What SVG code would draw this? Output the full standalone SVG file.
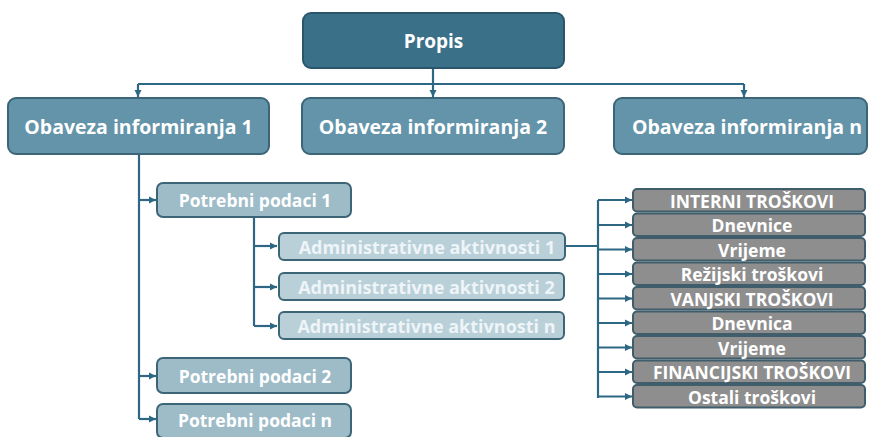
<svg xmlns="http://www.w3.org/2000/svg" width="869" height="437" viewBox="0 0 869 437">
<defs>
<marker id="ah" markerWidth="8" markerHeight="8" refX="7" refY="4" orient="auto" markerUnits="userSpaceOnUse">
<path d="M0,0.5 L7,4 L0,7.5 Z" fill="#2d6783"/>
</marker>
<style>
.ln{stroke:#2d6783;stroke-width:2.2;fill:none}
.top{fill:#3b7089;stroke:#2a566b;stroke-width:2}
.l1{fill:#6394a9;stroke:#3d6578;stroke-width:2}
.l2{fill:#9ebcc8;stroke:#3d6578;stroke-width:2}
.l3{fill:#b9d0d9;stroke:#3d6578;stroke-width:2}
.c{fill:#8e8e8e;stroke:#3f5d6b;stroke-width:2}
text{font-family:"Open Sans","Liberation Sans",sans-serif;font-weight:bold;fill:#fff;text-anchor:middle;dominant-baseline:central}
.t3{fill:#eef4f7}
.tk{font-size:17.5px}
</style>
</defs>
<rect width="869" height="437" fill="#fff"/>
<g id="connectors">
<path class="ln" d="M433,68 V84"/>
<path class="ln" d="M138,84 H744"/>
<path class="ln" d="M138,84 V97" marker-end="url(#ah)"/>
<path class="ln" d="M433,84 V97" marker-end="url(#ah)"/>
<path class="ln" d="M744,84 V97" marker-end="url(#ah)"/>
<path class="ln" d="M139,154 V419"/>
<path class="ln" d="M139,200 H156" marker-end="url(#ah)"/>
<path class="ln" d="M139,376 H156" marker-end="url(#ah)"/>
<path class="ln" d="M139,419 H156" marker-end="url(#ah)"/>
<path class="ln" d="M254,217 V326"/>
<path class="ln" d="M254,246 H277" marker-end="url(#ah)"/>
<path class="ln" d="M254,287 H277" marker-end="url(#ah)"/>
<path class="ln" d="M254,326 H277" marker-end="url(#ah)"/>
<path class="ln" d="M565,246 H598"/>
<path class="ln" d="M598,200 V398"/>
<path class="ln" d="M598,200 H632" marker-end="url(#ah)"/>
<path class="ln" d="M598,225 H632" marker-end="url(#ah)"/>
<path class="ln" d="M598,249.5 H632" marker-end="url(#ah)"/>
<path class="ln" d="M598,274 H632" marker-end="url(#ah)"/>
<path class="ln" d="M598,298.5 H632" marker-end="url(#ah)"/>
<path class="ln" d="M598,323 H632" marker-end="url(#ah)"/>
<path class="ln" d="M598,347.5 H632" marker-end="url(#ah)"/>
<path class="ln" d="M598,372 H632" marker-end="url(#ah)"/>
<path class="ln" d="M598,396.5 H632" marker-end="url(#ah)"/>
</g>
<g id="propis"><rect class="top" x="303" y="13" width="261" height="55" rx="8"/><text x="433.5" y="40.5" font-size="19">Propis</text></g>
<g id="ob1"><rect class="l1" x="8" y="98" width="261" height="56" rx="8"/><text x="138.5" y="126" font-size="19.5">Obaveza informiranja 1</text></g>
<g id="ob2"><rect class="l1" x="302" y="98" width="262" height="56" rx="8"/><text x="433" y="126" font-size="19.5">Obaveza informiranja 2</text></g>
<g id="obn"><rect class="l1" x="614" y="98" width="253" height="56" rx="8"/><text x="747" y="126" font-size="19.5">Obaveza informiranja n</text></g>
<g id="pp1"><rect class="l2" x="157" y="183" width="194" height="34" rx="6"/><text x="255" y="200" font-size="17.5">Potrebni podaci 1</text></g>
<g id="pp2"><rect class="l2" x="157" y="358" width="194" height="35" rx="6"/><text x="255" y="376" font-size="17.5">Potrebni podaci 2</text></g>
<g id="ppn"><rect class="l2" x="157" y="404" width="194" height="34" rx="6"/><text x="255" y="420" font-size="17.5">Potrebni podaci n</text></g>
<g id="aa1"><rect class="l3" x="279" y="233" width="286" height="27" rx="5"/><text class="t3" x="427" y="246.5" font-size="18">Administrativne aktivnosti 1</text></g>
<g id="aa2"><rect class="l3" x="279" y="273" width="285" height="27" rx="5"/><text class="t3" x="426.5" y="286.5" font-size="18">Administrativne aktivnosti 2</text></g>
<g id="aan"><rect class="l3" x="279" y="312" width="285" height="27" rx="5"/><text class="t3" x="426.5" y="325.5" font-size="18">Administrativne aktivnosti n</text></g>
<g id="k1"><rect class="c" x="633" y="189" width="232" height="22.5" rx="4"/><text class="tk" x="752" y="200.5">INTERNI TROŠKOVI</text></g>
<g id="k2"><rect class="c" x="633" y="213.5" width="232" height="22.5" rx="4"/><text class="tk" x="752" y="225">Dnevnice</text></g>
<g id="k3"><rect class="c" x="633" y="238" width="232" height="22.5" rx="4"/><text class="tk" x="752" y="249.5">Vrijeme</text></g>
<g id="k4"><rect class="c" x="633" y="262.5" width="232" height="22.5" rx="4"/><text class="tk" x="752" y="274">Režijski troškovi</text></g>
<g id="k5"><rect class="c" x="633" y="287" width="232" height="22.5" rx="4"/><text class="tk" x="752" y="298.5">VANJSKI TROŠKOVI</text></g>
<g id="k6"><rect class="c" x="633" y="311.5" width="232" height="22.5" rx="4"/><text class="tk" x="752" y="323">Dnevnica</text></g>
<g id="k7"><rect class="c" x="633" y="336" width="232" height="22.5" rx="4"/><text class="tk" x="752" y="347.5">Vrijeme</text></g>
<g id="k8"><rect class="c" x="633" y="360.5" width="232" height="22.5" rx="4"/><text class="tk" x="752" y="372">FINANCIJSKI TROŠKOVI</text></g>
<g id="k9"><rect class="c" x="633" y="385" width="232" height="22.5" rx="4"/><text class="tk" x="752" y="396.5">Ostali troškovi</text></g>
</svg>
